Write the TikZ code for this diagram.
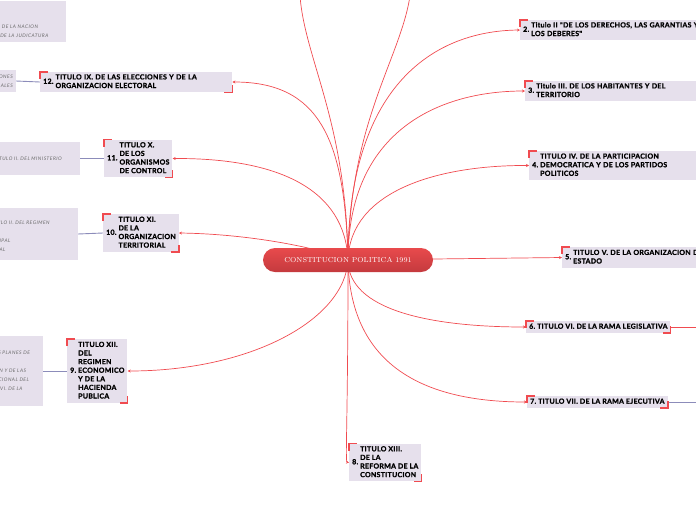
\documentclass[tikz,border=0pt]{standalone}
\usepackage{fontspec}
\newfontfamily\boxfont{Lato}[LetterSpace=4, BoldFeatures={FakeBold=1.3}]
\newfontfamily\notefont{Lato}[LetterSpace=10]
\usetikzlibrary{arrows.meta,backgrounds}
\definecolor{lilac}{HTML}{E6E0EC}
\definecolor{mapred}{HTML}{F04B50}
\definecolor{rootred}{HTML}{E84A4C}
\definecolor{rootdark}{HTML}{C43A3E}
\definecolor{linkblue}{HTML}{8C8CBA}
\definecolor{notegray}{HTML}{6A6A6A}

\tikzset{
  root/.style={rounded corners=12pt, minimum width=170pt, minimum height=24pt,
    top color=rootred, bottom color=rootdark, draw=none, text=white,
    font=\fontsize{7.2}{8}\selectfont},
  titlebox/.style={fill=lilac, anchor=west, inner xsep=3pt, inner ysep=1.5pt,
    font=\boxfont\bfseries\fontsize{7}{8.6}\selectfont},
  notebox/.style={fill=lilac, inner ysep=3pt, text=notegray,
    font=\notefont\itshape\fontsize{4.9}{9}\selectfont},
  branch/.style={draw=mapred, line width=0.7pt, -{Stealth[length=3pt,width=3pt]}},
  sublink/.style={draw=linkblue, line width=0.9pt},
  brk/.style={draw=mapred, line width=1.6pt}
}
\newcommand\titletext[2]{#1\hspace{2pt}\begin{tabular}[c]{@{}l@{}}#2\end{tabular}}
\newcommand\brackets[1]{%
  \draw[brk] ([yshift=-7pt]#1.north west) |- ([xshift=8pt]#1.north west);
  \draw[brk] ([yshift=7pt]#1.south east) |- ([xshift=-8pt]#1.south east);}

\begin{document}
\begin{tikzpicture}[x=1pt,y=-1pt]
\useasboundingbox (0,0) rectangle (696,520);
\clip (0,0) rectangle (696,520);

% centre
\node[root] (root) at (348,260) {CONSTITUCION POLITICA 1991};

% right hand titles
\node[titlebox, text width=200pt] (t2) at (520,30)
  {\titletext{2.}{Titulo II "DE LOS DERECHOS, LAS GARANTIAS Y\\LOS DEBERES"}};
\node[titlebox, text width=190pt] (t3) at (525,91)
  {\titletext{3.}{Titulo III. DE LOS HABITANTES Y DEL\\TERRITORIO}};
\node[titlebox, text width=190pt] (t4) at (529,165.5)
  {\titletext{4.}{TITULO IV. DE LA PARTICIPACION\\DEMOCRATICA Y DE LOS PARTIDOS\\POLITICOS}};
\node[titlebox, text width=160pt] (t5) at (562,257.5)
  {\titletext{5.}{TITULO V. DE LA ORGANIZACION DEL\\ESTADO}};
\node[titlebox] (t6) at (526,327)
  {\titletext{6.}{TITULO VI. DE LA RAMA LEGISLATIVA}};
\node[titlebox] (t7) at (527,402)
  {\titletext{7.}{TITULO VII. DE LA RAMA EJECUTIVA}};
\node[titlebox] (t8) at (349,462.5)
  {\titletext{8.}{TITULO XIII.\\DE LA\\REFORMA DE LA\\CONSTITUCION}};

% left hand titles
\node[titlebox] (t9) at (67,371)
  {\titletext{9.}{TITULO XII.\\DEL\\REGIMEN\\ECONOMICO\\Y DE LA\\HACIENDA\\PUBLICA}};
\node[titlebox] (t10) at (103,233)
  {\titletext{10.}{TITULO XI.\\DE LA\\ORGANIZACION\\TERRITORIAL}};
\node[titlebox] (t11) at (104,158.5)
  {\titletext{11.}{TITULO X.\\DE LOS\\ORGANISMOS\\DE CONTROL}};
\node[titlebox, text width=186pt] (t12) at (40,82)
  {\titletext{12.}{TITULO IX. DE LAS ELECCIONES Y DE LA\\ORGANIZACION ELECTORAL}};

% chapter notes, cut by the edge
\node[notebox, anchor=south east, text width=125pt, align=left, inner xsep=4pt, inner ysep=4pt] (n8)
  at (66,42) {DE LA FISCALIA GENERAL DE LA NACION\\DEL CONSEJO SUPERIOR DE LA JUDICATURA};
\node[notebox, anchor=east, text width=60pt, align=right, inner xsep=3pt, minimum height=22pt] (n12)
  at (16,81) {DISPOSICIONES\\GENERALES};
\node[notebox, anchor=east, text width=100pt, align=right, inner xsep=18pt, minimum height=33pt] (n11)
  at (80,158.5) {CAPITULO II. DEL MINISTERIO};
\node[notebox, anchor=east, text width=92pt, align=left, inner xsep=4pt, minimum height=52pt] (n10)
  at (78,234) {\mbox{}\\CAPITULO II. DEL REGIMEN\\\mbox{}\\MUNICIPAL\\ESPECIAL};
\node[notebox, anchor=east, text width=89pt, align=left, inner xsep=4pt, minimum height=70pt] (n9)
  at (43,371) {CAPITULO II. DE LOS PLANES DE\\\mbox{}\\DE LA DISTRIBUCION Y DE LAS\\DE LA FUNCION NACIONAL DEL\\ESTADO. CAPITULO VI. DE LA};
\fill[lilac] (n8.north west) rectangle ([yshift=20pt]n8.north east);

\coordinate (up1) at (300,-4);
\coordinate (up2) at (410,-4);
\coordinate (e6) at (700,327);
\coordinate (e7) at (700,402);

\begin{scope}[on background layer]
\clip (0,0) rectangle (696,520);
\draw[branch,-] (root.center) .. controls (346,120) and (305,60) .. (up1);
\draw[branch,-] (root.center) .. controls (350,120) and (400,60) .. (up2);
\draw[branch] (root.center) .. controls (348,90) and (430,31) .. (t2.west);
\draw[branch] (root.center) .. controls (348,130) and (440,91) .. (t3.west);
\draw[branch] (root.center) .. controls (350,190) and (440,165) .. (t4.west);
\draw[branch] (root.center) -- (t5.west);
\draw[branch] (root.center) .. controls (348,310) and (430,327) .. (t6.west);
\draw[branch] (root.center) .. controls (350,370) and (430,402) .. (t7.west);
\draw[branch] (root.center) .. controls (348,420) and (345,462) .. (t8.west);
\draw[branch] (root.center) .. controls (345,320) and (250,371) .. (t9.east);
\draw[branch] (root.center) .. controls (320,248) and (250,234) .. (t10.east);
\draw[branch] (root.center) .. controls (345,190) and (280,158) .. (t11.east);
\draw[branch] (root.center) .. controls (345,140) and (320,82) .. (t12.east);
\draw[branch,-] (t6.east) -- (e6);
\draw[sublink] (t7.east) -- (e7);
\draw[sublink] (t9.west) -- (n9.east);
\draw[sublink] (t10.west) -- (n10.east);
\draw[sublink] (t11.west) -- (n11.east);
\draw[sublink] (t12.west) -- (n12.east);
\end{scope}

\foreach \b in {t2,t3,t4,t5,t6,t7,t8,t9,t10,t11,t12} {\brackets{\b}}
\end{tikzpicture}
\end{document}
